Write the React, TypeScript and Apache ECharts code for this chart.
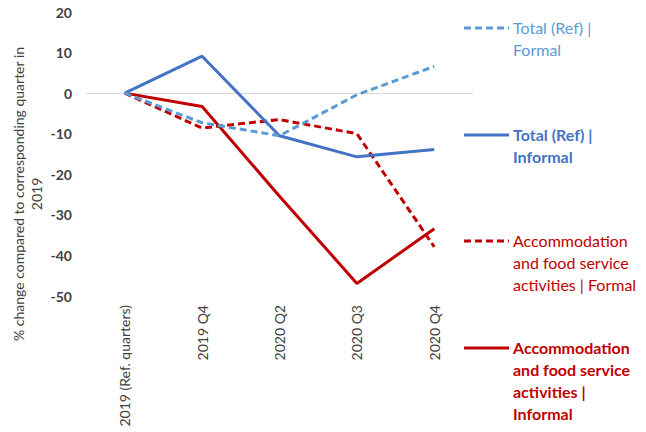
import React, { useEffect, useRef } from "react";
import * as echarts from "echarts";

const categories = ["2019 (Ref. quarters)", "2019 Q4", "2020 Q2", "2020 Q3", "2020 Q4"];
const totalFormal = [0, -7.3, -10.5, -0.4, 6.6];
const totalInformal = [0, 9.1, -10.5, -15.7, -13.9];
const accomFormal = [0, -8.6, -6.5, -10.0, -37.9];
const accomInformal = [0, -3.3, -25.4, -46.9, -33.4];
const seriesNames = [
  "Total (Ref) | Formal",
  "Total (Ref) | Informal",
  "Accommodation and food service activities | Formal",
  "Accommodation and food service activities | Informal",
];
const legendLines = [
  ["Total (Ref) |", "Formal"],
  ["Total (Ref) |", "Informal"],
  ["Accommodation", "and food service", "activities | Formal"],
  ["Accommodation", "and food service", "activities |", "Informal"],
];
const yTitle = ["% change compared to corresponding quarter in", "2019"];

const LIGHT_BLUE = "#5B9BD5";
const BLUE = "#4472C4";
const RED = "#C00000";
const FONT = "Lato, 'Open Sans', sans-serif";
const DASH = [7, 4];

export default function App() {
  const ref = useRef<HTMLDivElement>(null);
  useEffect(() => {
    if (!ref.current) return;
    const chart = echarts.init(ref.current, undefined, { renderer: "svg" });
    const colors = [LIGHT_BLUE, BLUE, RED, RED];
    const dashed = [true, false, true, false];
    const bold = [false, true, false, true];
    const data = [totalFormal, totalInformal, accomFormal, accomInformal];
    const legendY = [28, 135, 241, 348];
    const lh = 21.7;

    const graphic: any[] = [];
    legendY.forEach((y, i) => {
      graphic.push({
        type: "line",
        shape: { x1: 464, y1: y, x2: 509, y2: y },
        style: { stroke: colors[i], lineWidth: 3, lineDash: dashed[i] ? DASH : undefined },
        silent: true,
      });
      graphic.push({
        type: "text",
        x: 513,
        y: y - lh / 2,
        style: {
          text: legendLines[i].join("\n"),
          fill: colors[i],
          font: `${bold[i] ? "bold " : ""}16px ${FONT}`,
          lineHeight: lh,
          verticalAlign: "top",
        },
        silent: true,
      });
    });
    graphic.push({
      type: "text",
      x: 27,
      y: 194,
      rotation: Math.PI / 2,
      style: {
        text: yTitle.join("\n"),
        fill: "#404040",
        font: `14px ${FONT}`,
        align: "center",
        verticalAlign: "middle",
        lineHeight: 18,
      },
      silent: true,
    });

    chart.setOption({
      animation: false,
      grid: { left: 86, right: 173, top: 12, bottom: 136, containLabel: false },
      xAxis: {
        type: "category",
        data: categories,
        boundaryGap: true,
        axisLine: { show: false },
        axisTick: { show: false },
        axisLabel: {
          rotate: 90,
          margin: 9,
          color: "#404040",
          fontSize: 14,
          fontFamily: FONT,
        },
      },
      yAxis: {
        type: "value",
        min: -50,
        max: 20,
        interval: 10,
        axisLine: { show: false },
        axisTick: { show: false },
        splitLine: { show: false },
        axisLabel: {
          margin: 14,
          color: "#404040",
          fontSize: 14,
          fontWeight: "bold",
          fontFamily: FONT,
        },
      },
      graphic,
      series: data.map((d, i) => ({
        name: seriesNames[i],
        type: "line",
        data: d,
        symbol: "none",
        z: 10 - i,
        lineStyle: { color: colors[i], width: 3, type: dashed[i] ? DASH : "solid" },
        markLine:
          i === 0
            ? {
                silent: true,
                symbol: "none",
                label: { show: false },
                lineStyle: { color: "#D9D9D9", width: 1, type: "solid" },
                data: [{ yAxis: 0 }],
                z: 1,
              }
            : undefined,
      })),
    });
    return () => chart.dispose();
  }, []);
  return (
    <div
      ref={ref}
      style={{ position: "fixed", left: 0, top: 0, width: 646, height: 432, background: "#fff" }}
    />
  );
}
